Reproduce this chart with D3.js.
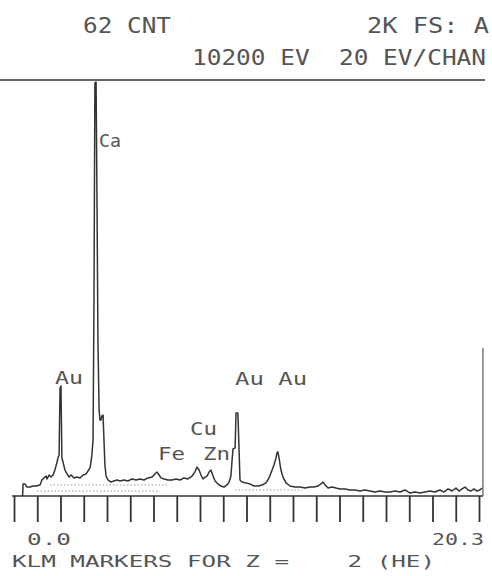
<!DOCTYPE html>
<html>
<head>
<meta charset="utf-8">
<script src="https://cdn.jsdelivr.net/npm/d3@7"></script>
<style>
  html, body { margin: 0; padding: 0; background: #fff; }
  svg { display: block; }
  text { font-family: "DejaVu Sans Mono", monospace; fill: #555; white-space: pre; }
</style>
</head>
<body>
<svg id="chart" width="492" height="576"></svg>
<script>
// X-ray energy-dispersive spectrum: energy (keV) vs counts, full scale 2K
const energyKeV = [
  0.37, 0.39, 0.47, 0.56, 0.69, 0.82, 0.95, 1.12, 1.20, 1.29, 1.38, 1.42, 1.51, 1.59, 1.68, 1.76,
  1.85, 1.89, 1.94, 1.98, 2.02, 2.06, 2.11, 2.19, 2.28, 2.37, 2.45, 2.58, 2.71, 2.84, 2.97, 3.10,
  3.18, 3.27, 3.31, 3.35, 3.40, 3.44, 3.48, 3.53, 3.57, 3.61, 3.66, 3.70, 3.74, 3.78, 3.83, 3.87,
  3.91, 3.96, 4.04, 4.17, 4.30, 4.43, 4.56, 4.73, 4.90, 5.08, 5.25, 5.42, 5.59, 5.76, 5.94, 6.06,
  6.15, 6.24, 6.32, 6.45, 6.62, 6.80, 6.97, 7.14, 7.31, 7.48, 7.66, 7.78, 7.87, 7.96, 8.04, 8.13,
  8.22, 8.30, 8.39, 8.47, 8.56, 8.65, 8.77, 8.90, 9.03, 9.16, 9.25, 9.33, 9.38, 9.42, 9.51, 9.55,
  9.63, 9.68, 9.72, 9.81, 9.98, 10.15, 10.32, 10.49, 10.67, 10.84, 10.97, 11.10, 11.18, 11.27, 11.31, 11.35,
  11.40, 11.48, 11.57, 11.70, 11.87, 12.09, 12.30, 12.52, 12.73, 12.90, 13.08, 13.20, 13.29, 13.38, 13.51, 13.68,
  13.85, 14.02, 14.24, 14.45, 14.67, 14.88, 15.10, 15.31, 15.53, 15.74, 15.96, 16.17, 16.39, 16.60, 16.82, 17.03,
  17.25, 17.46, 17.68, 17.89, 18.11, 18.32, 18.49, 18.67, 18.84, 19.01, 19.14, 19.27, 19.40, 19.53, 19.66, 19.78,
  19.91, 20.04, 20.13
];
const counts = [
  0, 58, 58, 43, 43, 48, 48, 53, 77, 87, 96, 82, 101, 91, 101, 125,
  163, 183, 197, 519, 529, 183, 163, 125, 106, 91, 101, 87, 91, 87, 101, 106,
  120, 135, 163, 197, 269, 942, 1986, 1990, 1423, 750, 413, 365, 365, 385, 389, 269,
  149, 96, 77, 67, 72, 77, 72, 77, 72, 82, 77, 82, 77, 87, 91, 106,
  115, 101, 87, 82, 77, 77, 82, 77, 87, 82, 96, 115, 139, 125, 101, 82,
  91, 96, 115, 125, 96, 72, 58, 48, 43, 53, 67, 96, 173, 226, 231, 399,
  399, 221, 77, 67, 63, 58, 48, 48, 53, 63, 87, 125, 149, 183, 207, 212,
  183, 125, 91, 63, 48, 43, 43, 38, 43, 43, 48, 58, 67, 53, 38, 43,
  38, 34, 34, 29, 29, 24, 29, 24, 19, 24, 19, 19, 24, 19, 29, 14,
  19, 14, 19, 24, 19, 29, 19, 34, 24, 38, 24, 34, 43, 29, 24, 34,
  24, 29, 38
];

// KLM marker labels: element, anchor energy (keV) and anchor level (counts)
const markerNames  = ["Ca", "Au", "Au Au", "Cu", "Fe", "Zn"];
const markerEnergy = [3.66, 1.76, 9.51, 7.57, 6.19, 8.13];
const markerLevel  = [1678, 538, 534, 293, 173, 173];
const markerWidth  = [22, 28, 72, 27, 27, 27];

// Dotted background-window markers near the baseline: [startKeV, endKeV, counts]
const windowStart  = [1.55, 0.99, 9.50];
const windowEnd    = [6.58, 6.28, 12.40];
const windowLevel  = [53, 24, 29];

const tickValues = d3.range(0, 21);   // one tick per keV
const fullScale = 2000;               // 2K FS

const svg = d3.select("#chart");
const ink = "#333";

const x = d3.scaleLinear().domain([0, 20]).range([14, 479]);
const y = d3.scaleLinear().domain([0, fullScale]).range([496, 80]);

// full-scale rule across the top
svg.append("line")
  .attr("x1", 0).attr("x2", 485)
  .attr("y1", y(fullScale)).attr("y2", y(fullScale))
  .attr("stroke", ink).attr("stroke-width", 1.6);

// header text
const header = [
  { t: "62 CNT", x: 83, y: 33, len: 88 },
  { t: "2K FS: A", x: 367, y: 33, len: 122 },
  { t: "10200 EV  20 EV/CHAN", x: 192, y: 65, len: 294 }
];
svg.selectAll("text.header").data(header).join("text")
  .attr("class", "header")
  .attr("x", d => d.x).attr("y", d => d.y)
  .attr("font-size", 21)
  .attr("textLength", d => d.len).attr("lengthAdjust", "spacingAndGlyphs")
  .text(d => d.t);

// energy axis: baseline and ticks
const axis = d3.axisBottom(x)
  .tickValues(tickValues)
  .tickSize(26)
  .tickSizeOuter(0)
  .tickFormat("");
const gAxis = svg.append("g").attr("transform", `translate(0,${y(0)})`).call(axis);
gAxis.select(".domain").remove();
gAxis.selectAll(".tick line").attr("stroke", ink).attr("stroke-width", 1.8);
svg.append("line")
  .attr("x1", 12).attr("x2", 483)
  .attr("y1", y(0)).attr("y2", y(0))
  .attr("stroke", ink).attr("stroke-width", 1.4);

// right edge of the spectrum window
const rightEdge = x(20.17);
svg.append("line")
  .attr("x1", rightEdge).attr("x2", rightEdge)
  .attr("y1", y(0)).attr("y2", y(712))
  .attr("stroke", "#555").attr("stroke-width", 1.2);

// dotted window markers
svg.selectAll("line.window").data(windowStart.map((s, i) => i)).join("line")
  .attr("class", "window")
  .attr("x1", i => x(windowStart[i])).attr("x2", i => x(windowEnd[i]))
  .attr("y1", i => y(windowLevel[i])).attr("y2", i => y(windowLevel[i]))
  .attr("stroke", "#9a9a9a").attr("stroke-width", 1)
  .attr("stroke-dasharray", "1.5,2");

// spectrum trace
const pts = energyKeV.map((e, i) => [e, counts[i]]);
const line = d3.line().x(d => x(d[0])).y(d => y(d[1]));
svg.append("path")
  .datum(pts)
  .attr("d", line)
  .attr("fill", "none")
  .attr("stroke", ink)
  .attr("stroke-width", 1.5)
  .attr("stroke-linejoin", "round");

// element marker labels
svg.selectAll("text.marker").data(markerNames.map((n, i) => i)).join("text")
  .attr("class", "marker")
  .attr("x", i => x(markerEnergy[i]))
  .attr("y", i => y(markerLevel[i]))
  .attr("font-size", 18)
  .attr("textLength", i => markerWidth[i]).attr("lengthAdjust", "spacingAndGlyphs")
  .text(i => markerNames[i]);

// footer text
const footer = [
  { t: "0.0", x: 27, y: 545, len: 44, size: 15 },
  { t: "20.3", x: 432, y: 545, len: 52, size: 15 },
  { t: "KLM MARKERS FOR Z =    2 (HE)", x: 12, y: 567, len: 423, size: 16 }
];
svg.selectAll("text.footer").data(footer).join("text")
  .attr("class", "footer")
  .attr("x", d => d.x).attr("y", d => d.y)
  .attr("font-size", d => d.size)
  .attr("textLength", d => d.len).attr("lengthAdjust", "spacingAndGlyphs")
  .text(d => d.t);
</script>
</body>
</html>
